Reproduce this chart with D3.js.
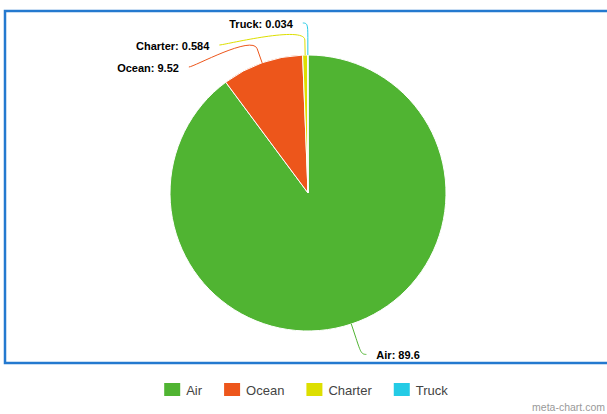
<!DOCTYPE html>
<html>
<head>
<meta charset="utf-8">
<script src="https://cdn.jsdelivr.net/npm/d3@7"></script>
<style>
  body { margin: 0; background: #fff; }
  svg { display: block; }
</style>
</head>
<body>
<div id="chart"></div>
<script>
var categories = ["Air", "Ocean", "Charter", "Truck"];
var values = [89.6, 9.52, 0.584, 0.034];
var colors = ["#50B432", "#ED561B", "#DDDF00", "#24CBE5"];

function PieChart(){
    var w = 607;
    var h = 414;
    var cx = 308, cy = 193;
    var r = 138;
    var labelR = r + 32;
    var breakR = r + 15;

    var svg = d3.select("#chart")
                .append("svg")
                .attr("width", w)
                .attr("height", h);

    // blue frame (right side runs past the window)
    svg.append("rect")
        .attr("x", 5).attr("y", 11)
        .attr("width", 640).attr("height", 352)
        .attr("fill", "none")
        .attr("stroke", "#2479cf")
        .attr("stroke-width", 2.5);

    var data = categories.map(function(c, i){
        return {name: c, value: values[i], color: colors[i]};
    });

    var pie = d3.pie()
                .sort(null)
                .value(function(d){ return d.value; });
    var arcs = pie(data);

    var arc = d3.arc().innerRadius(0).outerRadius(r);

    var g = svg.append("g")
        .attr("transform", "translate(" + cx + "," + cy + ")");

    g.selectAll("path")
        .data(arcs)
        .enter()
        .append("path")
        .attr("d", arc)
        .attr("fill", function(d){ return d.data.color; })
        .attr("stroke", "#fff")
        .attr("stroke-width", 1)
        .attr("stroke-linejoin", "round");

    // label placement: natural position on a circle, then stack left side labels
    arcs.forEach(function(d){
        d.mid = (d.startAngle + d.endAngle) / 2;
        d.left = Math.sin(d.mid) < 0;
        d.ly = -labelR * Math.cos(d.mid);
    });
    var leftOnes = arcs.filter(function(d){ return d.left; })
                       .sort(function(a, b){ return a.ly - b.ly; });
    var prev = -Infinity;
    leftOnes.forEach(function(d){
        d.ly = Math.max(d.ly, prev + 22);
        prev = d.ly;
    });
    arcs.forEach(function(d){
        var dx = Math.sqrt(Math.max(0, labelR * labelR - d.ly * d.ly));
        d.lx = d.left ? -dx : dx;
    });

    // soft connector: label -> break just outside the pie -> slice edge
    function connector(d){
        var s = d.left ? -1 : 1;
        var b = [breakR * Math.sin(d.mid), -breakR * Math.cos(d.mid)];
        var e = [r * Math.sin(d.mid), -r * Math.cos(d.mid)];
        return "M" + [d.lx + s * 5, d.ly] +
               "C" + [d.lx, d.ly] + " " + [2 * b[0] - e[0], 2 * b[1] - e[1]] + " " + b +
               "L" + e;
    }

    g.selectAll("path.conn")
        .data(arcs)
        .enter()
        .append("path")
        .attr("class", "conn")
        .attr("d", connector)
        .attr("fill", "none")
        .attr("stroke", function(d){ return d.data.color; })
        .attr("stroke-width", 1);

    g.selectAll("text.lbl")
        .data(arcs)
        .enter()
        .append("text")
        .attr("class", "lbl")
        .attr("x", function(d){ return d.lx + (d.left ? -15 : 15); })
        .attr("y", function(d){ return d.ly; })
        .attr("dy", "0.45em")
        .attr("text-anchor", function(d){ return d.left ? "end" : "start"; })
        .attr("font-family", "'Liberation Sans', Arial, sans-serif")
        .attr("font-size", "11px")
        .attr("font-weight", "bold")
        .attr("fill", "#000")
        .text(function(d){ return d.data.name + ": " + d.data.value; });

    // legend
    var legend = svg.append("g");
    var items = legend.selectAll("g")
        .data(data)
        .enter()
        .append("g");
    items.append("rect")
        .attr("width", 16).attr("height", 13)
        .attr("y", -7)
        .attr("fill", function(d){ return d.color; });
    items.append("text")
        .attr("x", 22)
        .attr("dy", "0.35em")
        .attr("font-family", "'Liberation Sans', Arial, sans-serif")
        .attr("font-size", "13px")
        .attr("fill", "#444")
        .text(function(d){ return d.name; });
    var pos = 0;
    items.each(function(){
        var t = d3.select(this).select("text").node().getComputedTextLength();
        d3.select(this).attr("transform", "translate(" + pos + ",0)");
        pos += 22 + t + 22;
    });
    var total = pos - 22;
    legend.attr("transform", "translate(" + (306 - total / 2) + ",390)");

    svg.append("text")
        .attr("x", 605).attr("y", 411)
        .attr("text-anchor", "end")
        .attr("font-family", "'Liberation Sans', Arial, sans-serif")
        .attr("font-size", "10.5px")
        .attr("fill", "#999")
        .text("meta-chart.com");
}

window.onload = PieChart();
</script>
</body>
</html>
